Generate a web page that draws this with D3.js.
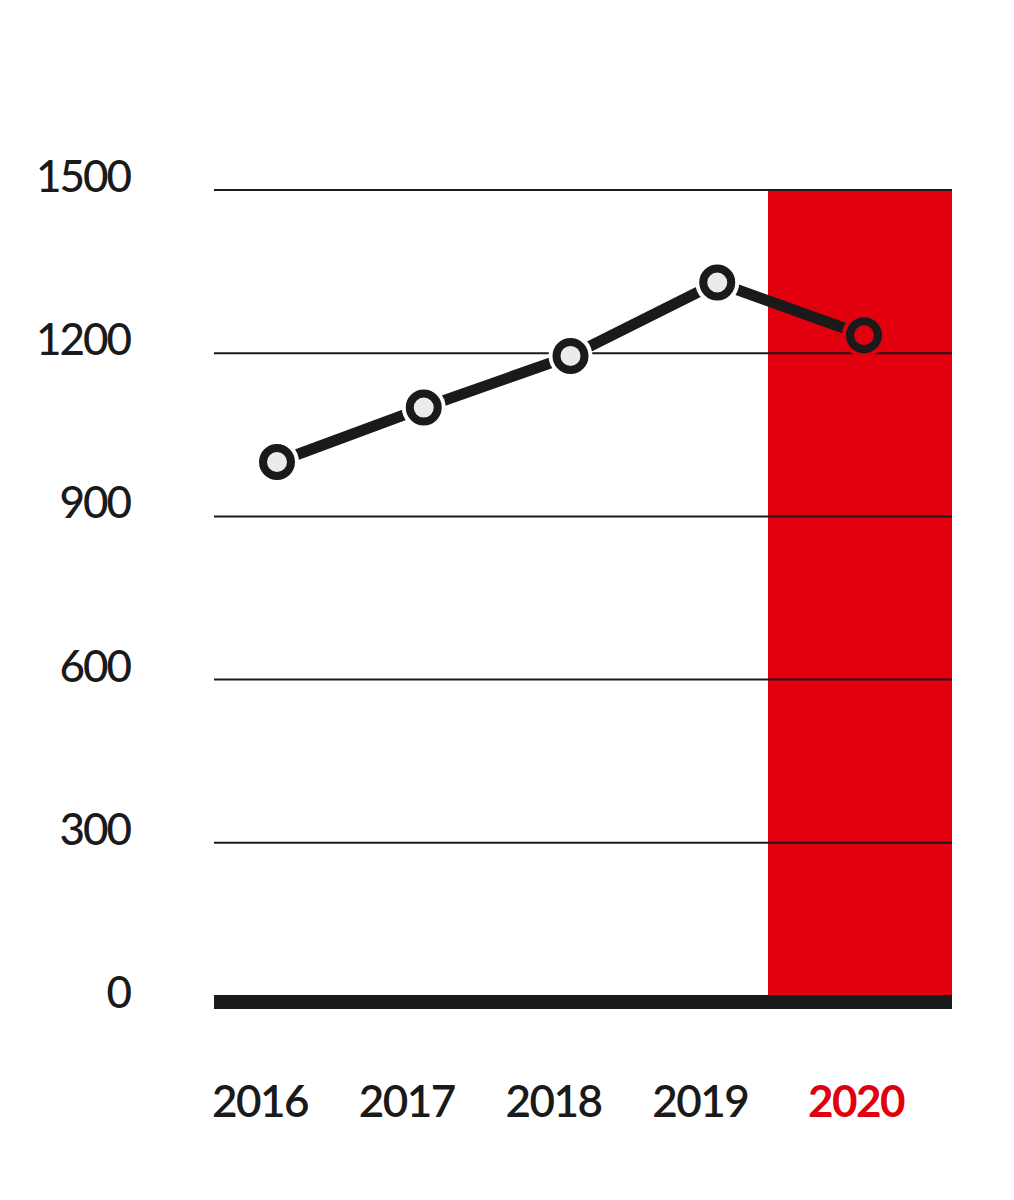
<!DOCTYPE html>
<html>
<head>
<meta charset="utf-8">
<script src="https://cdn.jsdelivr.net/npm/d3@7"></script>
<style>
  html, body { margin: 0; padding: 0; background: #ffffff; }
  svg { display: block; }
</style>
</head>
<body>
<div id="chart"></div>
<script>
const years = ["2016", "2017", "2018", "2019", "2020"];
const values = [1000, 1100, 1195, 1330, 1233];
const yTicks = [0, 300, 600, 900, 1200, 1500];
const highlightYear = "2020";

const W = 1014, H = 1200;
const INK = "#1a1a1a", RED = "#e2000f", BG = "#ffffff";

const svg = d3.select("#chart").append("svg")
  .attr("width", W).attr("height", H);

const y = d3.scaleLinear().domain([0, 1500]).range([1006, 190]);
const x = d3.scalePoint().domain(years).range([277, 864]);
const gridLeft = 214, gridRight = 952;
const bandLeft = 768;

// highlight band
svg.append("rect")
  .attr("x", bandLeft).attr("y", y(1500))
  .attr("width", gridRight - bandLeft)
  .attr("height", y(0) + 3 - y(1500))
  .attr("fill", RED);

// gridlines
svg.append("g").selectAll("line")
  .data(yTicks.filter(d => d > 0))
  .join("line")
  .attr("x1", gridLeft).attr("x2", gridRight)
  .attr("y1", d => y(d)).attr("y2", d => y(d))
  .attr("stroke", INK).attr("stroke-width", 2);

// baseline
svg.append("line")
  .attr("x1", gridLeft).attr("x2", gridRight)
  .attr("y1", y(0) - 4).attr("y2", y(0) - 4)
  .attr("stroke", INK).attr("stroke-width", 14);

// y labels
svg.append("g").selectAll("text")
  .data(yTicks)
  .join("text")
  .attr("x", 130).attr("y", d => y(d) + 2)
  .attr("text-anchor", "end")
  .attr("font-family", "Lato, 'Open Sans', sans-serif")
  .attr("font-size", 44)
  .attr("font-weight", 500)
  .attr("letter-spacing", -2)
  .attr("fill", INK)
  .text(d => d);

// x labels
svg.append("g").selectAll("text")
  .data(years)
  .join("text")
  .attr("x", d => d === highlightYear ? (bandLeft + gridRight) / 2 - 4 : x(d) - 17)
  .attr("y", 1117)
  .attr("text-anchor", "middle")
  .attr("font-family", "Lato, 'Open Sans', sans-serif")
  .attr("font-size", 44)
  .attr("font-weight", d => d === highlightYear ? 700 : 600)
  .attr("letter-spacing", -1.5)
  .attr("fill", d => d === highlightYear ? RED : INK)
  .text(d => d);

const pts = years.map((d, i) => ({ year: d, value: values[i] }));

// line
const line = d3.line().x(d => x(d.year)).y(d => y(d.value));
svg.append("path")
  .datum(pts)
  .attr("d", line)
  .attr("fill", "none")
  .attr("stroke", INK)
  .attr("stroke-width", 11);

// marker halos
svg.append("g").selectAll("circle")
  .data(pts)
  .join("circle")
  .attr("cx", d => x(d.year)).attr("cy", d => y(d.value))
  .attr("r", 22)
  .attr("fill", d => x(d.year) > bandLeft ? RED : BG);

// markers
svg.append("g").selectAll("circle")
  .data(pts)
  .join("circle")
  .attr("cx", d => x(d.year)).attr("cy", d => y(d.value))
  .attr("r", 14)
  .attr("fill", d => x(d.year) > bandLeft ? RED : "#ebebeb")
  .attr("stroke", INK)
  .attr("stroke-width", 8);
</script>
</body>
</html>
